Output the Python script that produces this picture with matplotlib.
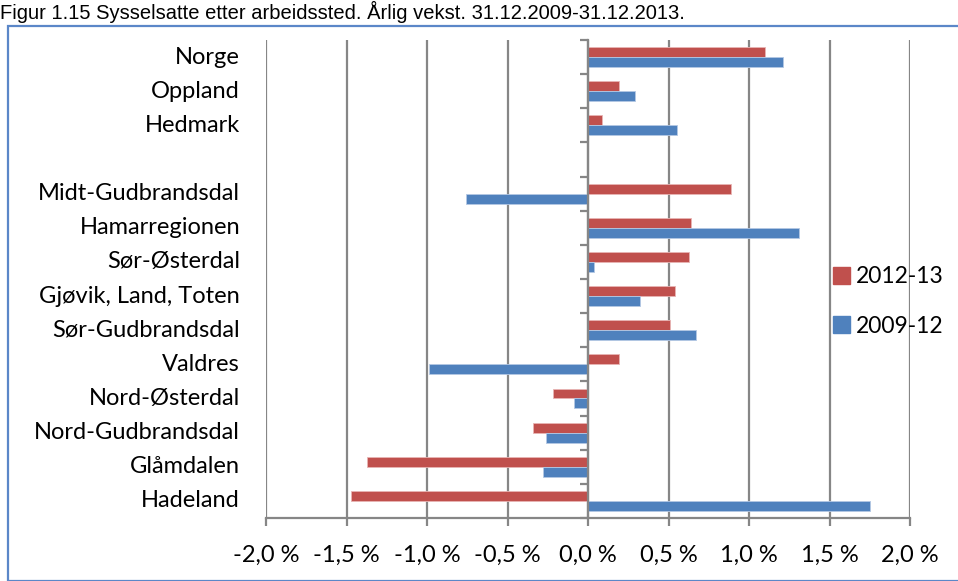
import matplotlib
matplotlib.use("Agg")
import matplotlib.pyplot as plt
import matplotlib.transforms as mtransforms
from matplotlib.patches import Rectangle, Patch
import numpy as np

# ---- data ----
categories = ["Norge", "Oppland", "Hedmark", "", "Midt-Gudbrandsdal", "Hamarregionen",
              "Sør-Østerdal", "Gjøvik, Land, Toten", "Sør-Gudbrandsdal", "Valdres",
              "Nord-Østerdal", "Nord-Gudbrandsdal", "Glåmdalen", "Hadeland"]
growth_2012_13 = [1.10, 0.19, 0.09, np.nan, 0.89, 0.64, 0.63, 0.54, 0.51, 0.19,
                  -0.22, -0.34, -1.37, -1.47]
growth_2009_12 = [1.21, 0.29, 0.55, np.nan, -0.76, 1.31, 0.035, 0.32, 0.67, -0.99,
                  -0.09, -0.26, -0.28, 1.75]
series_labels = ["2012-13", "2009-12"]
x_ticks = [-2.0, -1.5, -1.0, -0.5, 0.0, 0.5, 1.0, 1.5, 2.0]
x_tick_labels = ["-2,0 %", "-1,5 %", "-1,0 %", "-0,5 %", "0,0 %", "0,5 %", "1,0 %", "1,5 %", "2,0 %"]
title = "Figur 1.15 Sysselsatte etter arbeidssted. Årlig vekst. 31.12.2009-31.12.2013."

RED = "#C0504D"
BLUE = "#4F81BD"
GRID = "#868686"
FONT = "Lato"
FS = 17

W, H = 958, 581
fig = plt.figure(figsize=(W / 100, H / 100), dpi=100)

# title
fig.text(0.0, 1 - 1 / H, title, family="Liberation Sans", fontsize=14.5,
         ha="left", va="top", color="black")

# outer frame
fig.patches.append(Rectangle((8 / W, 0), 1.0, 1 - 26 / H, transform=fig.transFigure,
                             fill=False, edgecolor="#5B87C8", linewidth=1.6))

ax = fig.add_axes([266 / W, 1 - 518 / H, (910 - 266) / W, (518 - 40) / H])

n = len(categories)
y = np.arange(n)
h = 0.29
ax.barh(y - h / 2, growth_2012_13, height=h, color=RED, edgecolor="#E8B5B4",
        linewidth=0.6, zorder=3, label=series_labels[0])
ax.barh(y + h / 2, growth_2009_12, height=h, color=BLUE, edgecolor="#B4C8E4",
        linewidth=0.6, zorder=3, label=series_labels[1])

ax.set_xlim(-2.0, 2.0)
ax.set_ylim(n - 0.5, -0.5)

ax.set_xticks(x_ticks)
ax.set_xticklabels(x_tick_labels, family=FONT, fontsize=FS)
ax.grid(axis="x", color=GRID, linewidth=1.6, zorder=0)
ax.set_axisbelow(True)

for s in ["top", "right"]:
    ax.spines[s].set_visible(False)
ax.spines["bottom"].set_color(GRID)
ax.spines["bottom"].set_linewidth(1.6)
ax.spines["left"].set_position(("data", 0))
ax.spines["left"].set_color(GRID)
ax.spines["left"].set_linewidth(1.6)
ax.spines["left"].set_zorder(4)

ax.tick_params(axis="x", direction="out", length=6, width=1.6, color=GRID, pad=13)
ax.set_yticks(np.arange(n + 1) - 0.5)
ax.set_yticklabels([])
ax.tick_params(axis="y", direction="out", length=6, width=1.6, color=GRID)

# category labels at left of plot area
trans = mtransforms.blended_transform_factory(ax.transAxes, ax.transData)
offset = mtransforms.ScaledTranslation(-26 / 100, 0, fig.dpi_scale_trans)
for yi, cat in zip(y, categories):
    ax.text(0, yi, cat, transform=trans + offset, ha="right", va="center",
            family=FONT, fontsize=FS, color="black")

handles = [Patch(facecolor=RED, edgecolor=RED), Patch(facecolor=BLUE, edgecolor=BLUE)]
fig.legend(handles, series_labels, loc="upper left",
           bbox_to_anchor=(824 / W, 1 - 257 / H), frameon=False,
           prop={"family": FONT, "size": 16.5}, handlelength=0.75,
           handleheight=0.75, handletextpad=0.25, labelspacing=1.25,
           borderaxespad=0)

fig.savefig("out.png", dpi=100)
